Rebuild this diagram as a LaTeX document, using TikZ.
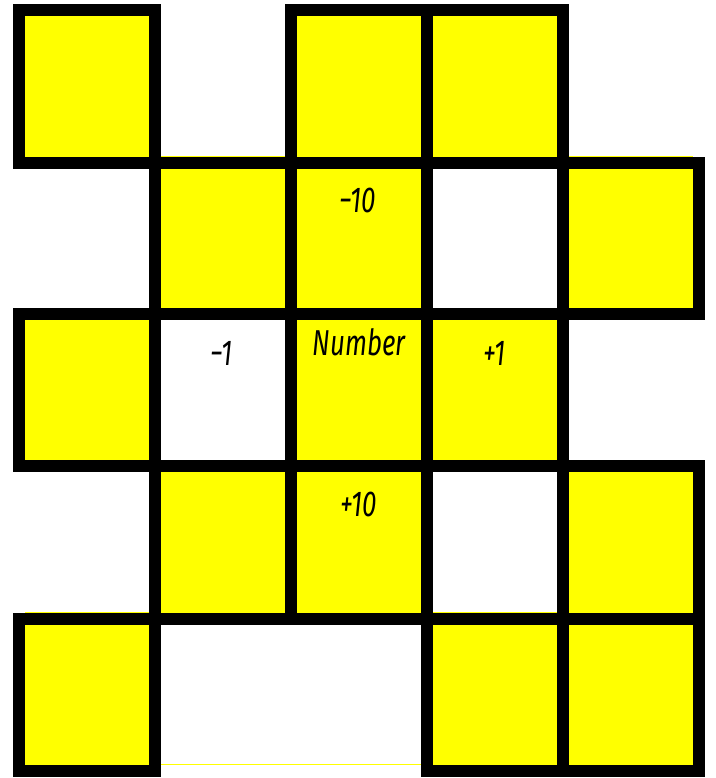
\documentclass[tikz,border=0pt]{standalone}
\usepackage{fontspec}
\newfontfamily\hand{Fira Sans}[FakeStretch=0.72]
\definecolor{cellyellow}{RGB}{255,255,0}
\begin{document}
\begin{tikzpicture}[x=1pt,y=-1pt,
  cell/.style={rectangle,draw=black,fill=cellyellow,line width=12pt,inner sep=0pt,minimum width=136pt},
  lbl/.style={font=\hand\itshape\fontsize{36}{36}\selectfont,inner sep=0pt,anchor=base},
  edge/.style={cellyellow,line width=1pt}]
\useasboundingbox (0,0) rectangle (715,778);
\fill[white] (0,0) rectangle (715,778);
% thin yellow fringes
\draw[edge] (161,156.5) -- (285,156.5);
\draw[edge] (569,157) -- (693,157);
\draw[edge] (25,612.5) -- (149,612.5);
\draw[edge] (433,612.5) -- (557,612.5);
\draw[edge] (161,764.5) -- (421,764.5);
% row 0 (y 10..163)
\node[cell,minimum height=153pt] (r0c0) at (87,86.5) {};
\node[cell,minimum height=153pt] (r0c2) at (359,86.5) {};
\node[cell,minimum height=153pt] (r0c3) at (495,86.5) {};
% row 1 (y 163..314)
\node[cell,minimum height=151pt] (r1c1) at (223,238.5) {};
\node[cell,minimum height=151pt] (r1c2) at (359,238.5) {};
\node[cell,minimum height=151pt] (r1c4) at (631,238.5) {};
% row 2 (y 314..466)
\node[cell,minimum height=152pt] (r2c0) at (87,390) {};
\node[cell,minimum height=152pt] (r2c2) at (359,390) {};
\node[cell,minimum height=152pt] (r2c3) at (495,390) {};
% row 3 (y 466..619)
\node[cell,minimum height=153pt] (r3c1) at (223,542.5) {};
\node[cell,minimum height=153pt] (r3c2) at (359,542.5) {};
\node[cell,minimum height=153pt] (r3c4) at (631,542.5) {};
% row 4 (y 619..771)
\node[cell,minimum height=152pt] (r4c0) at (87,695) {};
\node[cell,minimum height=152pt] (r4c3) at (495,695) {};
\node[cell,minimum height=152pt] (r4c4) at (631,695) {};
% labels
\node[lbl] (m10) at (358,212) {−10};
\node[lbl] (m1) at (222,365) {−1};
\node[lbl] (num) at (359,355) {Number};
\node[lbl] (p1) at (495,365) {+1};
\node[lbl] (p10) at (359,516) {+10};
\end{tikzpicture}
\end{document}
